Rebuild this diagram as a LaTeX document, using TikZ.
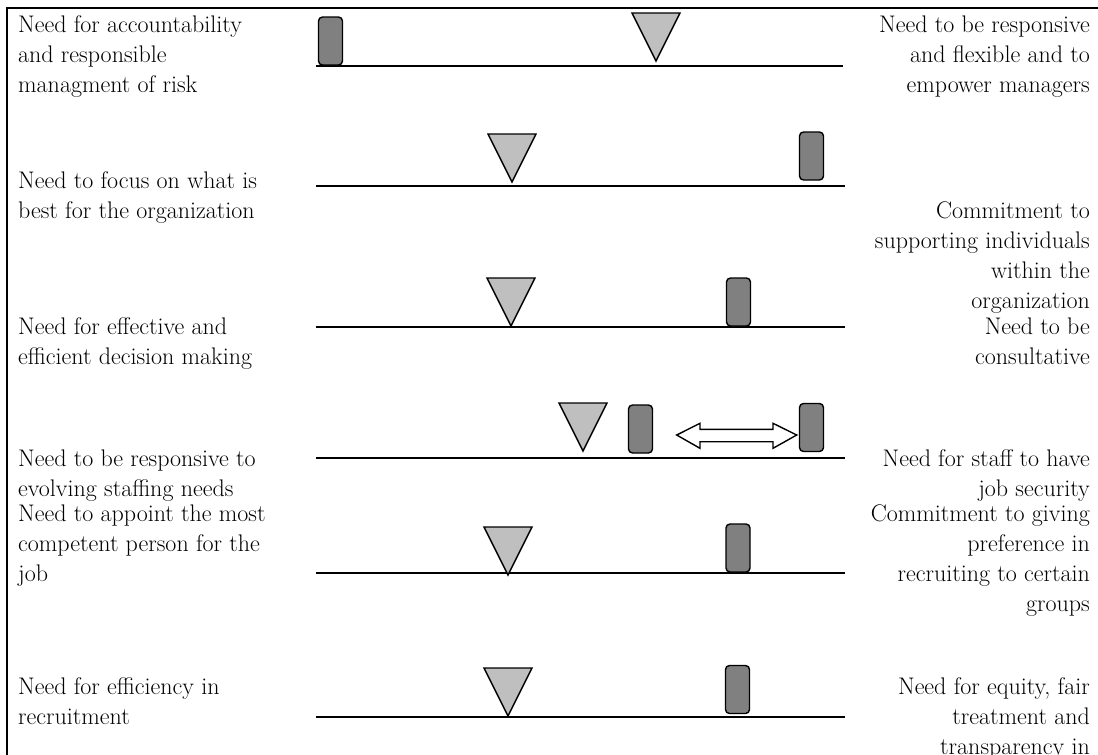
\documentclass[tikz,border=0pt]{standalone}
\begin{document}
\begin{tikzpicture}[x=1pt,y=-1pt,
  rule/.style={line width=2pt},
  frame/.style={line width=2.6pt, line join=miter},
  marker/.style={draw, line width=1.4pt, rounded corners=4pt, fill=black!50,
    minimum width=24pt, minimum height=48pt, inner sep=0pt},
  wedge/.style={draw, line width=1.4pt, fill=black!25, line join=miter},
  wedgepic/.pic={\draw[wedge] (-24,-48) -- (24,-48) -- (0,0) -- cycle;},
  arrowbox/.style={draw, line width=1.4pt, fill=white, line join=miter},
  lefttext/.style={anchor=base west, inner sep=0pt, font=\fontsize{24}{30}\selectfont},
  righttext/.style={anchor=base east, inner sep=0pt, font=\fontsize{24}{30}\selectfont}]
\useasboundingbox (0,0) rectangle (1098,755);
\clip (0,0) rectangle (1098,755);

% outer frame
\coordinate (fr) at (1098,8);
\coordinate (fc) at (7,8);
\coordinate (fb) at (7,755);
\draw[frame] (fr) -- (fc) -- (fb);

% scales: end points of each rule
\coordinate (s1a) at (316,66);  \coordinate (s1b) at (843,66);
\coordinate (s2a) at (316,186); \coordinate (s2b) at (845,186);
\coordinate (s3a) at (316,327); \coordinate (s3b) at (845,327);
\coordinate (s4a) at (316,458); \coordinate (s4b) at (845,458);
\coordinate (s5a) at (316,573); \coordinate (s5b) at (845,573);
\coordinate (s6a) at (316,717); \coordinate (s6b) at (845,717);
\foreach \i in {1,...,6} {\draw[rule] (s\i a) -- (s\i b);}

% current positions (grey triangles, apex down)
\pic at (656,61)  {wedgepic};
\pic at (512,182) {wedgepic};
\pic at (511,326) {wedgepic};
\pic at (583,451) {wedgepic};
\pic at (508,575) {wedgepic};
\pic at (508,716) {wedgepic};

% desired positions (dark rounded markers)
\node[marker] (m1)  at (330.5,41) {};
\node[marker] (m2)  at (811.5,156) {};
\node[marker] (m3)  at (738.5,302) {};
\node[marker] (m4a) at (640.5,429) {};
\node[marker] (m4b) at (811.5,427.5) {};
\node[marker] (m5)  at (738,548) {};
\node[marker] (m6)  at (737.5,689.5) {};

% open double arrow between the two markers of row four
\coordinate (dl) at (676.7,435);
\coordinate (dr) at (796.7,435);
\draw[arrowbox] (dl) -- ++(23.3,-11.7) -- ++(0,6) -- ++(73,0) -- ++(0,-6)
  -- (dr) -- ++(-23.7,13.3) -- ++(0,-6.6) -- ++(-73,0) -- ++(0,6.6) -- cycle;

% left-hand needs
\node[lefttext] (l1) at (18,32)  {\parbox[t]{300pt}{\raggedright Need for accountability\\ and responsible\\ managment of risk}};
\node[lefttext] (l2) at (18,188) {\parbox[t]{300pt}{\raggedright Need to focus on what is\\ best for the organization}};
\node[lefttext] (l3) at (18,334) {\parbox[t]{300pt}{\raggedright Need for effective and\\ efficient decision making}};
\node[lefttext] (l4) at (18,466) {\parbox[t]{300pt}{\raggedright Need to be responsive to\\ evolving staffing needs}};
\node[lefttext] (l5) at (18,521) {\parbox[t]{300pt}{\raggedright Need to appoint the most\\ competent person for the\\ job}};
\node[lefttext] (l6) at (18,694) {\parbox[t]{300pt}{\raggedright Need for efficiency in\\ recruitment}};

% right-hand needs
\node[righttext] (r1) at (1090,32)  {\parbox[t]{280pt}{\raggedleft Need to be responsive\\ and flexible and to\\ empower managers}};
\node[righttext] (r2) at (1090,218) {\parbox[t]{280pt}{\raggedleft Commitment to\\ supporting individuals\\ within the\\ organization}};
\node[righttext] (r3) at (1090,334) {\parbox[t]{280pt}{\raggedleft Need to be\\ consultative}};
\node[righttext] (r4) at (1090,466) {\parbox[t]{280pt}{\raggedleft Need for staff to have\\ job security}};
\node[righttext] (r5) at (1090,521) {\parbox[t]{280pt}{\raggedleft Commitment to giving\\ preference in\\ recruiting to certain\\ groups}};
\node[righttext] (r6) at (1090,694) {\parbox[t]{280pt}{\raggedleft Need for equity, fair\\ treatment and\\ transparency in}};
\end{tikzpicture}
\end{document}
